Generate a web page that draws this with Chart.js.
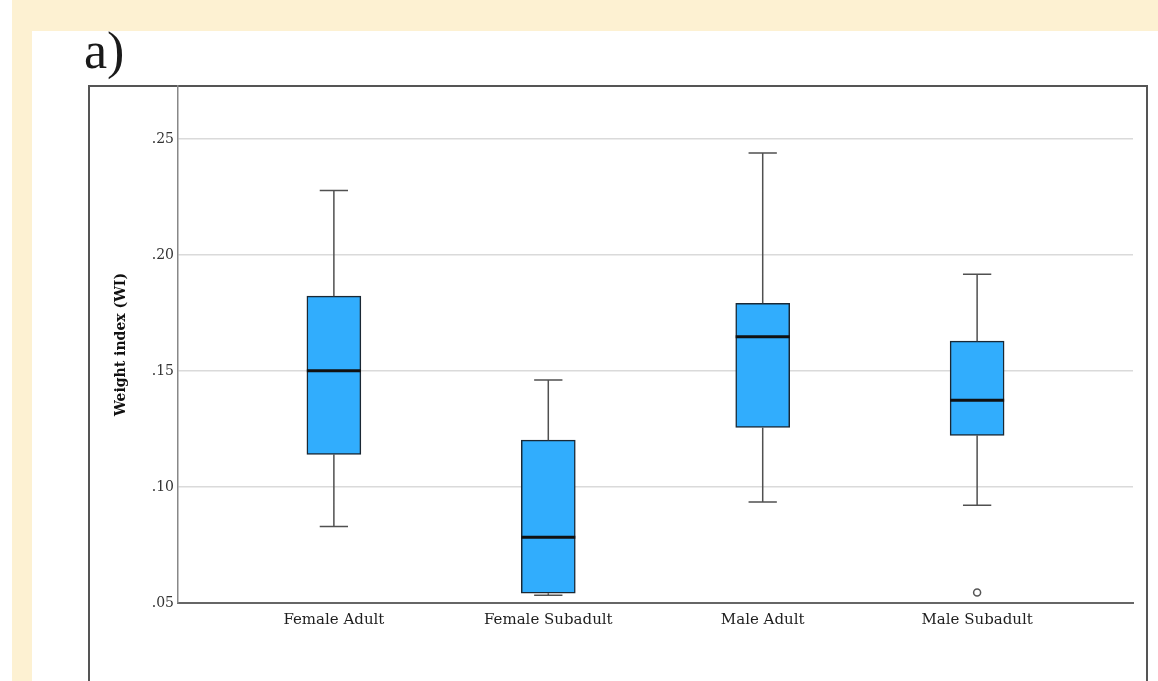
<!DOCTYPE html>
<html>
<head>
<meta charset="utf-8">
<title>Weight index box plot</title>
<script src="https://cdn.jsdelivr.net/npm/chart.js@4.4.1/dist/chart.umd.min.js"></script>
<style>
  html, body { margin: 0; padding: 0; background: #fff; width: 1158px; height: 681px; overflow: hidden; }
  .paper-top { position: absolute; left: 12px; top: 0; width: 1146px; height: 31px; background: #fdf1d2; }
  .paper-left { position: absolute; left: 12px; top: 0; width: 20px; height: 681px; background: #fdf1d2; }
  .panel-label { position: absolute; left: 84px; top: 25px; font: 52px "Liberation Serif", serif; line-height: 1; color: #1a1a1a; }
  .frame { position: absolute; left: 88px; top: 85px; width: 1060px; height: 700px; border: 2px solid #555; box-sizing: border-box; }
  #wrap { position: absolute; left: 0; top: 0; width: 1158px; height: 681px; }
</style>
</head>
<body>
<div class="paper-top"></div>
<div class="paper-left"></div>
<div class="panel-label">a)</div>
<div class="frame"></div>
<div id="wrap"><canvas id="chartCanvas" width="1158" height="681"></canvas></div>

<script>
// --- data ---
const categories = ["Female Adult", "Female Subadult", "Male Adult", "Male Subadult"];
const xPositions = [1, 2, 3, 4];
const whiskerMin = [0.0830, 0.0533, 0.0935, 0.0921];
const q1         = [0.1141, 0.0542, 0.1257, 0.1223];
const median     = [0.1501, 0.0784, 0.1648, 0.1374];
const q3         = [0.1823, 0.1202, 0.1792, 0.1629];
const whiskerMax = [0.2278, 0.1461, 0.2440, 0.1917];
const outliers   = [[], [], [], [0.0545]];
const yTicks = [0.05, 0.10, 0.15, 0.20, 0.25];

// half widths in x units (1 unit = one category step)
const boxHalf = 0.126;
const capHalf = 0.066;

// boxes as floating bars
const boxData = xPositions.map((x, i) => ({ x: x, y: [q1[i], q3[i]] }));

// whisker stems + caps, gaps with null
const whiskerData = [];
xPositions.forEach((x, i) => {
    whiskerData.push({ x: x, y: whiskerMax[i] }, { x: x, y: q3[i] }, { x: x, y: null });
    whiskerData.push({ x: x, y: q1[i] }, { x: x, y: whiskerMin[i] }, { x: x, y: null });
    whiskerData.push({ x: x - capHalf, y: whiskerMax[i] }, { x: x + capHalf, y: whiskerMax[i] }, { x: x, y: null });
    whiskerData.push({ x: x - capHalf, y: whiskerMin[i] }, { x: x + capHalf, y: whiskerMin[i] }, { x: x, y: null });
});

const medianData = [];
xPositions.forEach((x, i) => {
    medianData.push({ x: x - boxHalf, y: median[i] }, { x: x + boxHalf, y: median[i] }, { x: x, y: null });
});

const outlierData = [];
xPositions.forEach((x, i) => {
    outliers[i].forEach(v => outlierData.push({ x: x, y: v }));
});

const serif = "'DejaVu Serif', 'Liberation Serif', serif";

new Chart(document.getElementById("chartCanvas").getContext("2d"), {
    type: "scatter",
    data: {
        datasets: [
            {
                type: "bar",
                data: boxData,
                backgroundColor: "#31adfd",
                borderColor: "#1a2834",
                borderWidth: 1.5,
                borderSkipped: false,
                barThickness: 54,
                order: 3
            },
            {
                type: "line",
                data: whiskerData,
                borderColor: "#505050",
                borderWidth: 1.5,
                pointRadius: 0,
                spanGaps: false,
                tension: 0,
                order: 2
            },
            {
                type: "line",
                data: medianData,
                borderColor: "#111",
                borderWidth: 3,
                borderCapStyle: "butt",
                pointRadius: 0,
                spanGaps: false,
                order: 1
            },
            {
                type: "line",
                data: outlierData,
                showLine: false,
                pointRadius: 3.5,
                pointBackgroundColor: "#fff",
                pointBorderColor: "#555",
                pointBorderWidth: 1.5,
                order: 0
            }
        ]
    },
    options: {
        responsive: false,
        animation: false,
        events: [],
        layout: { padding: { left: 0, top: 86, right: 25, bottom: 0 } },
        plugins: { legend: { display: false }, tooltip: { enabled: false } },
        scales: {
            x: {
                type: "linear",
                min: 0.273,
                max: 4.727,
                offset: false,
                grid: { display: false, drawTicks: false, offset: false },
                border: { display: true, color: "#666", width: 2 },
                afterBuildTicks: s => { s.ticks = xPositions.map(v => ({ value: v })); },
                afterFit: s => { s.height = 78; },
                ticks: {
                    padding: 8,
                    color: "#1e1e1e",
                    font: { family: serif, size: 15 },
                    callback: (v, i) => categories[i],
                    maxRotation: 0
                }
            },
            y: {
                type: "linear",
                min: 0.05,
                max: 0.2729,
                beginAtZero: false,
                grid: { color: "#dadada", lineWidth: 1.5, drawTicks: false },
                border: { display: true, color: "#888", width: 1.5 },
                afterBuildTicks: s => { s.ticks = yTicks.map(v => ({ value: v })); },
                afterFit: s => { s.width = 178; },
                ticks: {
                    padding: 4,
                    color: "#333",
                    font: { family: serif, size: 14 },
                    callback: v => v.toFixed(2).replace(/^0/, "")
                },
                title: {
                    display: true,
                    text: "Weight index (WI)",
                    color: "#111",
                    font: { family: serif, size: 14, weight: "bold" },
                    padding: { top: 113, bottom: 0 }
                }
            }
        }
    }
});
</script>
</body>
</html>
